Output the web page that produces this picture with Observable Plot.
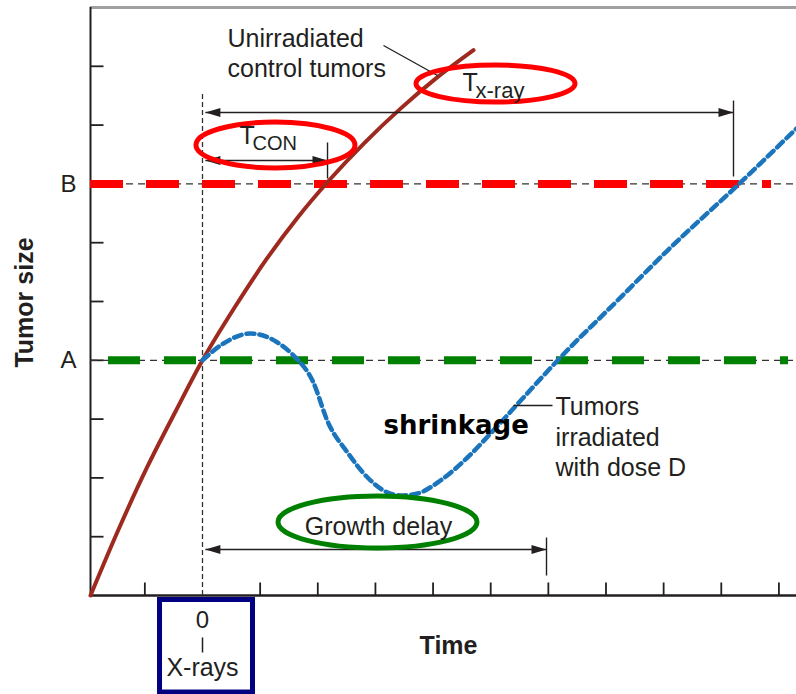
<!DOCTYPE html>
<html><head><meta charset="utf-8">
<script src="https://cdn.jsdelivr.net/npm/d3@7"></script>
<script src="https://cdn.jsdelivr.net/npm/@observablehq/plot@0.6"></script>
<style>body{margin:0;background:#fff} svg{display:block}</style>
</head><body><div id="chart"></div>
<script>
// ---- data (time units: tick spacing; size units: tick spacing) ----
const timeDomain = [-1.943, 10.305];
const sizeDomain = [0, 10];
const xTickTimes = [-1, 1, 2, 3, 4, 5, 6, 7, 8, 9, 10];
const yTickSizes = [1, 2, 3, 4, 5, 6, 7, 8, 9];
const levelLabels = ["A", "B"];
const levelSizes = [4, 7];
const xrayTime = 0;

const controlTime = [-1.943, -1.457, -0.954, -0.468, 0, 0.573, 1.110, 1.648, 2.186, 2.811, 3.435, 4.077, 4.702];
const controlSize = [0, 1.122, 2.194, 3.129, 4.0, 4.923, 5.719, 6.425, 7.049, 7.699, 8.280, 8.816, 9.276];

const irradTime = [0, 0.364, 0.833, 1.301, 1.579, 1.908, 2.186, 2.516, 2.863, 3.210, 3.470, 3.730, 4.129, 4.598, 4.997, 5.569, 6.159, 7.200, 8.067, 9.334, 10.305];
const irradSize = [4, 4.286, 4.456, 4.303, 4.082, 3.656, 2.925, 2.432, 2.007, 1.752, 1.701, 1.735, 1.956, 2.347, 2.755, 3.367, 3.997, 5.017, 5.867, 7.024, 7.942];

// threshold lines: A (green) and B (red)
const bandFrom = [-1.631, -1.943];
const bandTo = [10.167, 9.872];

// interval arrows: T x-ray, T CON, Growth delay
const arrowLevel = [8.214, 7.398, 0.782];
const arrowFrom = [0.05, 0.05, 0.05];
const arrowTo = [9.212, 2.169, 5.968];
const stopTop = [8.418, 7.704, 0.986];
const stopBottom = [7.126, 7.092, 0.340];

// leader lines
const leaderX1 = [3.140, 5.396], leaderY1 = [9.354, 3.231];
const leaderX2 = [4.077, 6.072], leaderY2 = [8.844, 3.231];

// ellipse centres
const ellipseTime = [5.083, 1.266, 3.036];
const ellipseSize = [8.707, 7.662, 1.25];

const INK = "#231f20";
const idx = n => d3.range(n);

// custom symbols
const tickRight = {draw(c) { c.moveTo(0, 0); c.lineTo(13, 0); }};
const tickUp = {draw(c) { c.moveTo(0, 0); c.lineTo(0, -13); }};
const headRight = {draw(c) { c.moveTo(0, 0); c.lineTo(-15, -4.5); c.lineTo(-15, 4.5); c.closePath(); }};
const headLeft = {draw(c) { c.moveTo(0, 0); c.lineTo(15, -4.5); c.lineTo(15, 4.5); c.closePath(); }};
function ellipseSymbol(ratio) {
  return {draw(c, size) {
    const rx = Math.sqrt(size / Math.PI), ry = rx * ratio, k = 0.5523;
    c.moveTo(rx, 0);
    c.bezierCurveTo(rx, ry * k, rx * k, ry, 0, ry);
    c.bezierCurveTo(-rx * k, ry, -rx, ry * k, -rx, 0);
    c.bezierCurveTo(-rx, -ry * k, -rx * k, -ry, 0, -ry);
    c.bezierCurveTo(rx * k, -ry, rx, -ry * k, rx, 0);
    c.closePath();
  }};
}

const [xMin, xMax] = timeDomain;

const chart = Plot.plot({
  width: 796, height: 694,
  marginLeft: 90, marginRight: 0, marginTop: 7, marginBottom: 99,
  x: {domain: timeDomain, axis: null},
  y: {domain: sizeDomain, axis: null},
  style: {fontFamily: "'Liberation Sans', Arial, sans-serif", background: "#fff", color: INK},
  marks: [
    // frame: top gray line, axes
    Plot.ruleY([10], {x1: xMin, x2: xMax, stroke: "#a0a0a0", strokeWidth: 3}),
    Plot.ruleX([xMin], {y1: 0, y2: 10, stroke: INK, strokeWidth: 2}),
    Plot.ruleY([0], {x1: xMin, x2: xMax, stroke: INK, strokeWidth: 2.5}),
    Plot.dot(yTickSizes, {x: xMin, y: d => d, symbol: tickRight, fill: "none", stroke: INK, strokeWidth: 1.8}),
    Plot.dot(xTickTimes, {x: d => d, y: 0, symbol: tickUp, fill: "none", stroke: INK, strokeWidth: 1.8}),
    Plot.text(idx(2), {x: xMin, y: i => levelSizes[i], text: i => levelLabels[i], dx: -14, textAnchor: "end", lineAnchor: "middle", fontSize: 24, fill: INK}),

    // thin dashed reference lines
    Plot.ruleY(levelSizes, {x1: xMin, x2: xMax, stroke: "#333", strokeWidth: 1.3, strokeDasharray: "7,5"}),
    Plot.ruleX([xrayTime], {y1: 0, y2: 8.537, stroke: "#333", strokeWidth: 1.3, strokeDasharray: "5,3"}),

    // thick coloured thresholds
    Plot.ruleY([levelSizes[0]], {x1: bandFrom[0], x2: bandTo[0], stroke: "#008000", strokeWidth: 8, strokeDasharray: "32,24"}),
    Plot.ruleY([levelSizes[1]], {x1: bandFrom[1], x2: bandTo[1], stroke: "#ff0000", strokeWidth: 8, strokeDasharray: "33,23"}),

    // curves
    Plot.line(idx(controlTime.length), {x: i => controlTime[i], y: i => controlSize[i], curve: "monotone-x", stroke: "#9e2a1f", strokeWidth: 4}),
    Plot.line(idx(irradTime.length), {x: i => irradTime[i], y: i => irradSize[i], curve: "monotone-x", stroke: "#1b75bc", strokeWidth: 4.5, strokeDasharray: "8,5"}),

    // arrows
    Plot.link(idx(3), {x1: i => arrowFrom[i], x2: i => arrowTo[i], y1: i => arrowLevel[i], y2: i => arrowLevel[i], stroke: INK, strokeWidth: 1.4}),
    Plot.link(idx(3), {x1: i => arrowTo[i], x2: i => arrowTo[i], y1: i => stopTop[i], y2: i => stopBottom[i], stroke: INK, strokeWidth: 1.4}),
    Plot.dot(idx(3), {x: i => arrowTo[i], y: i => arrowLevel[i], symbol: headRight, fill: INK, stroke: "none"}),
    Plot.dot(idx(3), {x: i => arrowFrom[i], y: i => arrowLevel[i], symbol: headLeft, fill: INK, stroke: "none"}),

    // leaders
    Plot.link(idx(2), {x1: i => leaderX1[i], y1: i => leaderY1[i], x2: i => leaderX2[i], y2: i => leaderY2[i], stroke: INK, strokeWidth: 1.3}),

    // ellipses
    Plot.dot([0], {x: i => ellipseTime[i], y: i => ellipseSize[i], r: 79.5, symbol: ellipseSymbol(0.233), fill: "none", stroke: "#ff0000", strokeWidth: 5}),
    Plot.dot([1], {x: i => ellipseTime[i], y: i => ellipseSize[i], r: 79.5, symbol: ellipseSymbol(0.289), fill: "none", stroke: "#ff0000", strokeWidth: 5}),
    Plot.dot([2], {x: i => ellipseTime[i], y: i => ellipseSize[i], r: 99.5, symbol: ellipseSymbol(0.261), fill: "none", stroke: "#008000", strokeWidth: 5}),

    // annotation texts
    Plot.text(["Unirradiated\ncontrol tumors"], {x: 0.434, y: 8.810, text: d => d, textAnchor: "start", lineAnchor: "bottom", lineHeight: 1.2, fontSize: 25, fill: INK}),
    Plot.text(["Tumors\nirradiated\nwith dose D"], {x: 6.124, y: 2.024, text: d => d, textAnchor: "start", lineAnchor: "bottom", lineHeight: 1.22, fontSize: 25, fill: INK}),
    Plot.text(["T"], {x: 0.642, y: 7.687, text: d => d, textAnchor: "start", lineAnchor: "bottom", fontSize: 25, fill: INK}),
    Plot.text(["CON"], {x: 0.867, y: 7.585, text: d => d, textAnchor: "start", lineAnchor: "bottom", fontSize: 20, fill: INK}),
    Plot.text(["T"], {x: 4.511, y: 8.588, text: d => d, textAnchor: "start", lineAnchor: "bottom", fontSize: 25, fill: INK}),
    Plot.text(["x-ray"], {x: 4.736, y: 8.469, text: d => d, textAnchor: "start", lineAnchor: "bottom", fontSize: 22, fill: INK}),
    Plot.text(["Growth delay"], {x: 3.053, y: 1.037, text: d => d, textAnchor: "middle", lineAnchor: "bottom", fontSize: 25, fill: INK}),
    Plot.text(["shrinkage"], {x: 3.140, y: 2.755, text: d => d, textAnchor: "start", lineAnchor: "bottom", fontSize: 26, fontWeight: "bold", fontFamily: "'Comic Sans MS', 'DejaVu Sans', sans-serif", fill: "#000"}),

    // axis titles and x-ray marker
    Plot.text(["Tumor size"], {x: -2.949, y: 4.983, text: d => d, rotate: -90, textAnchor: "middle", lineAnchor: "bottom", fontSize: 25, fontWeight: "bold", fill: INK}),
    Plot.text(["Time"], {x: 4.268, y: -1.003, text: d => d, textAnchor: "middle", lineAnchor: "bottom", fontSize: 25, fontWeight: "bold", fill: INK}),
    Plot.text(["0"], {x: xrayTime, y: -0.561, text: d => d, textAnchor: "middle", lineAnchor: "bottom", fontSize: 24, fill: INK}),
    Plot.link([0], {x1: xrayTime, x2: xrayTime, y1: -0.714, y2: -0.969, stroke: INK, strokeWidth: 1.5}),
    Plot.text(["X-rays"], {x: xrayTime, y: -1.361, text: d => d, textAnchor: "middle", lineAnchor: "bottom", fontSize: 25, fill: INK}),
    Plot.rect([0], {x1: -0.737, x2: 0.876, y1: -0.0765, y2: -1.650, fill: "none", stroke: "#000080", strokeWidth: 5})
  ]
});
document.getElementById("chart").appendChild(chart);
</script>
</body></html>
